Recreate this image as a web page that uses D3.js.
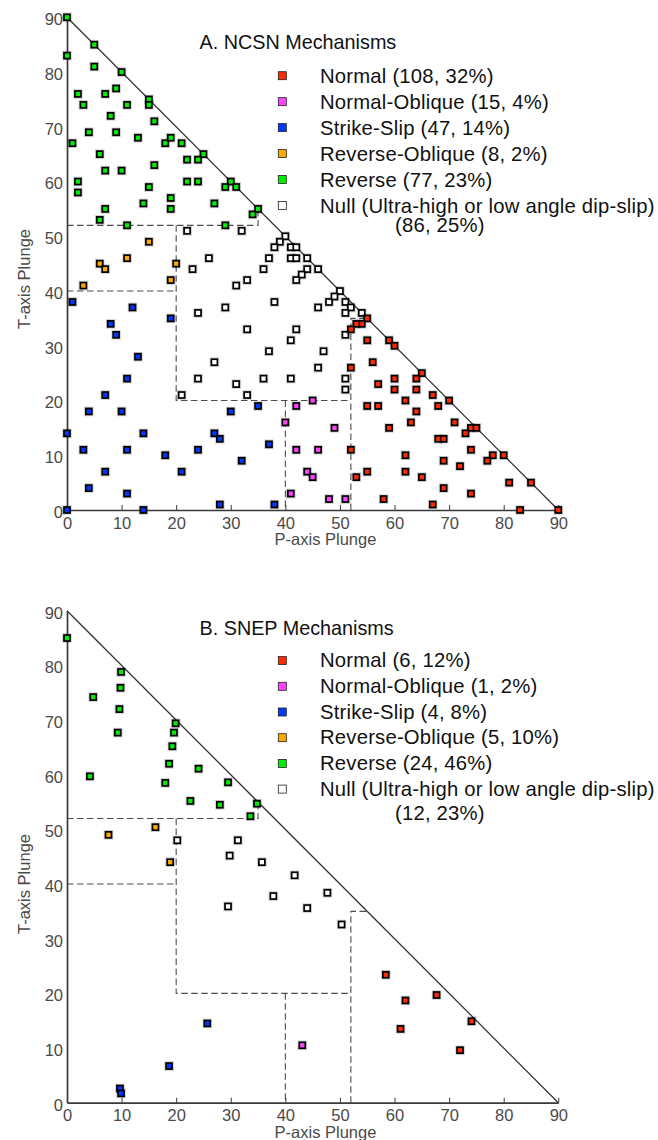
<!DOCTYPE html>
<html>
<head>
<meta charset="utf-8">
<script src="https://cdn.jsdelivr.net/npm/d3@7"></script>
<style>
  html, body { margin: 0; padding: 0; background: #fff; }
  svg { display: block; font-family: "Liberation Sans", Arial, Helvetica, sans-serif; }
</style>
</head>
<body>
<svg id="chart" width="658" height="1140"></svg>
<script>
// Faulting-regime classes (P-axis plunge vs T-axis plunge)
const categories = ["Normal", "Normal-Oblique", "Strike-Slip", "Reverse-Oblique", "Reverse",
  "Null (Ultra-high or low angle dip-slip)"];
const categoryColors = ["#ff2a00", "#ff44ff", "#0038ff", "#ffaa00", "#00ee00", "#ffffff"];

const ncsnCounts = [108, 15, 47, 8, 77, 86];
const ncsnPercents = [32, 4, 14, 2, 23, 25];
const snepCounts = [6, 1, 4, 5, 24, 12];
const snepPercents = [12, 2, 8, 10, 46, 23];

const tickValues = [0, 10, 20, 30, 40, 50, 60, 70, 80, 90];

// Regime boundaries as [P, T] polylines
const regimeBoundaries = [
  [[0, 52], [35, 52], [35, 55]],
  [[0, 40], [20, 40]],
  [[20, 52], [20, 20], [52, 20]],
  [[40, 20], [40, 0]],
  [[52, 0], [52, 35], [55, 35]]
];

// NCSN mechanisms, [P plunge, T plunge]
const ncsnNormal = [[55,35],[54,34],[53,34],[52,33],[55,31],[59,31],[60,30],[56,27],[52,26],[65,25],
  [64,24],[60,24],[57,23],[60,22],[64,22],[67,21],[70,20],[62,20],[68,19],[55,19],[57,19],[64,18],
  [63,16],[71,16],[59,15],[74,15],[75,15],[73,14],[68,13],[69,13],[52,11],[62,10],[74,11],[78,10],
  [80,10],[77,9],[69,9],[72,8],[53,6],[55,7],[62,7],[65,6],[81,5],[85,5],[69,4],[74,3],[58,2],
  [67,1],[83,0],[90,0]];
const ncsnNormalOblique = [[40,16],[42,19],[45,20],[42,11],[46,11],[44,7],[45,6],[41,3],[48,2],
  [49,15],[51,2]];
const ncsnStrikeSlip = [[1,38],[12,37],[8,34],[9,32],[19,35],[13,28],[11,24],[7,21],[4,18],[10,18],
  [0,14],[14,14],[3,11],[11,11],[18,10],[7,7],[4,4],[11,3],[0,0],[14,0],[21,7],[24,11],[27,14],
  [28,13],[30,18],[32,9],[35,19],[37,12],[28,1],[38,1]];
const ncsnReverseOblique = [[15,49],[11,46],[6,45],[7,44],[20,45],[3,41],[19,42]];
const ncsnReverse = [[0,90],[0,83],[5,85],[5,81],[10,80],[2,76],[3,74],[7,76],[9,77],[11,74],[8,72],
  [15,75],[15,74],[16,71],[4,69],[9,69],[13,68],[1,67],[18,67],[19,68],[21,67],[6,65],[25,65],
  [7,62],[10,62],[16,63],[22,64],[24,64],[2,60],[2,58],[15,59],[22,60],[24,60],[30,60],[29,59],
  [31,59],[14,56],[19,57],[19,55],[27,56],[7,55],[6,53],[11,52],[29,52],[34,54],[35,55]];
const ncsnNull = [[22,51],[32,51],[26,46],[40,50],[39,49],[38,48],[41,48],[42,48],[37,46],[41,46],
  [42,46],[44,46],[36,44],[44,44],[46,44],[23,44],[43,43],[42,42],[33,42],[31,41],[38,38],[24,36],
  [29,37],[33,33],[42,33],[41,31],[37,29],[47,29],[46,37],[48,38],[27,27],[24,24],[36,24],[41,24],
  [46,26],[31,23],[33,21],[21,21],[50,40],[49,39],[51,38],[52,37],[51,36],[54,36],[51,32],[51,24],
  [51,22]];

// SNEP mechanisms, [P plunge, T plunge]
const snepNormal = [[58.4,23.4],[62.0,18.7],[67.7,19.7],[74.1,14.9],[61.1,13.5],[72.0,9.6]];
const snepNormalOblique = [[43.1,10.5]];
const snepStrikeSlip = [[25.7,14.5],[18.7,6.7],[9.7,2.6],[9.9,1.7]];
const snepReverseOblique = [[16.2,50.4],[7.6,49.0],[18.9,44.0]];
const snepReverse = [[0,85],[9.9,78.8],[9.8,75.9],[4.8,74.2],[9.6,72.0],[9.3,67.7],[19.9,69.4],
  [19.6,67.7],[19.3,65.2],[18.7,62.0],[24.1,61.1],[18.0,58.5],[4.2,59.7],[29.5,58.6],[22.6,55.2],
  [28.0,54.5],[34.8,54.7],[33.6,52.4]];
const snepNull = [[20.2,48.0],[31.3,48.0],[29.8,45.2],[35.7,44.0],[41.7,41.6],[37.8,37.8],
  [29.5,35.9],[44.0,35.6],[47.7,38.4],[50.3,32.6]];

const svg = d3.select("#chart");

function drawPanel(cfg) {
  const x = d3.scaleLinear().domain([0, 90]).range([67, 558.3]);
  const y = d3.scaleLinear().domain([0, 90]).range(cfg.yRange);
  const g = svg.append("g");

  const line = d3.line().x(d => x(d[0])).y(d => y(d[1]));

  // regime boundaries
  g.selectAll("path.boundary").data(regimeBoundaries).join("path")
    .attr("class", "boundary")
    .attr("d", line)
    .attr("fill", "none")
    .attr("stroke", "#4d4d4d")
    .attr("stroke-width", 1.1)
    .attr("stroke-dasharray", "6.5,3.5");

  // P + T = 90 limit
  g.append("path")
    .attr("d", line([[0, 90], [90, 0]]))
    .attr("fill", "none")
    .attr("stroke", "#333")
    .attr("stroke-width", 1.3);

  // axes
  const xAxis = g.append("g")
    .attr("transform", `translate(0,${y(0)})`)
    .call(d3.axisBottom(x).tickValues(tickValues).tickSizeInner(-5).tickSizeOuter(0).tickPadding(7));
  const yAxis = g.append("g")
    .attr("transform", `translate(${x(0)},0)`)
    .call(d3.axisLeft(y).tickValues(tickValues).tickSizeInner(0).tickSizeOuter(0).tickPadding(4));
  [xAxis, yAxis].forEach(ax => {
    ax.select(".domain").attr("stroke", "#3a3a3a").attr("stroke-width", 1.7);
    ax.selectAll(".tick line").attr("stroke", "#3a3a3a").attr("stroke-width", 1);
    ax.selectAll(".tick text")
      .attr("font-size", 16.5)
      .attr("font-family", "'Liberation Sans', Arial, sans-serif")
      .attr("fill", "#4a4a4a");
  });
  yAxis.selectAll(".tick text").attr("dy", "0.45em");

  // axis titles
  g.append("text")
    .attr("x", 325.5).attr("y", cfg.xTitleY)
    .attr("text-anchor", "middle")
    .attr("font-size", 16.5).attr("fill", "#4a4a4a")
    .text("P-axis Plunge");
  g.append("text")
    .attr("transform", `translate(29.5,${cfg.yTitleCenter}) rotate(-90)`)
    .attr("text-anchor", "middle")
    .attr("font-size", 16.5).attr("fill", "#4a4a4a")
    .text("T-axis Plunge");

  // mechanism markers (null class first, coloured classes on top)
  const order = [5, 0, 1, 2, 3, 4];
  order.forEach(ci => {
    const pts = cfg.series[ci];
    const mg = g.append("g");
    mg.selectAll("rect.halo").data(pts).join("rect")
      .attr("class", "halo")
      .attr("x", d => x(d[0]) - 4.8).attr("y", d => y(d[1]) - 4.8)
      .attr("width", 9.6).attr("height", 9.6)
      .attr("fill", "#000").attr("fill-opacity", 0.18);
    mg.selectAll("rect.mark").data(pts).join("rect")
      .attr("class", "mark")
      .attr("x", d => x(d[0]) - 3).attr("y", d => y(d[1]) - 3)
      .attr("width", 6).attr("height", 6)
      .attr("fill", categoryColors[ci])
      .attr("stroke", "#000").attr("stroke-width", 1.7);
  });

  // title
  g.append("text")
    .attr("x", 199.5).attr("y", cfg.titleY)
    .attr("font-size", 19.8).attr("fill", "#111")
    .text(cfg.title);

  // legend
  categories.forEach((name, i) => {
    const by = cfg.legendY0 + i * cfg.legendStep;
    g.append("rect")
      .attr("x", 278.3).attr("y", by - cfg.markerLift - 4)
      .attr("width", 8).attr("height", 8)
      .attr("fill", categoryColors[i])
      .attr("stroke", "#222").attr("stroke-width", 0.8);
    const label = i === 5 ? name : `${name} (${cfg.counts[i]}, ${cfg.percents[i]}%)`;
    g.append("text")
      .attr("x", 320).attr("y", by)
      .attr("font-size", 20.3).attr("letter-spacing", 0.2).attr("fill", "#111")
      .text(label);
    if (i === 5) {
      g.append("text")
        .attr("x", 395).attr("y", cfg.nullSecondY)
        .attr("font-size", 20.3).attr("letter-spacing", 0.2).attr("fill", "#111")
        .text(`(${cfg.counts[i]}, ${cfg.percents[i]}%)`);
    }
  });
}

drawPanel({
  title: "A. NCSN Mechanisms",
  yRange: [510, 17.3],
  titleY: 48.5,
  legendY0: 83.3, legendStep: 25.95, markerLift: 7.6, nullSecondY: 232.3,
  xTitleY: 545, yTitleCenter: 279,
  counts: ncsnCounts, percents: ncsnPercents,
  series: [ncsnNormal, ncsnNormalOblique, ncsnStrikeSlip, ncsnReverseOblique, ncsnReverse, ncsnNull]
});

drawPanel({
  title: "B. SNEP Mechanisms",
  yRange: [1102.7, 610.7],
  titleY: 635,
  legendY0: 667.3, legendStep: 25.7, markerLift: 6.7, nullSecondY: 820,
  xTitleY: 1137.5, yTitleCenter: 884,
  counts: snepCounts, percents: snepPercents,
  series: [snepNormal, snepNormalOblique, snepStrikeSlip, snepReverseOblique, snepReverse, snepNull]
});
</script>
</body>
</html>
